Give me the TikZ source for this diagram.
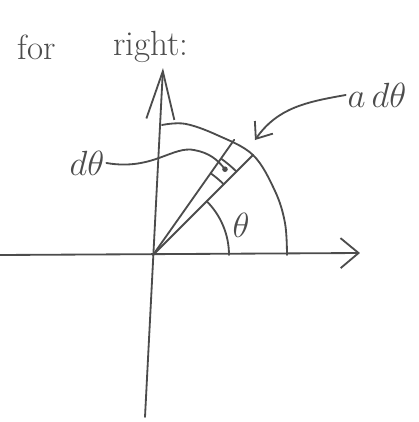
\documentclass[tikz,border=0pt]{standalone}
\usepackage{amsmath, amssymb}
\usepackage{tikz}
\usetikzlibrary{arrows.meta}
\usepackage{xcolor}
\definecolor{pencil}{gray}{0.3}

\begin{document}
\begin{tikzpicture}[
        pen/.style={draw=pencil, line width=1.3pt, line cap=round, line join=round},
        xarr/.style={pen, -{Straight Barb[length=4.5mm, width=7.5mm, line width=1.3pt]}},
        yarr/.style={pen, -{Straight Barb[length=12mm, width=7mm, line width=1.3pt]}},
        ptr/.style={pen, -{Straight Barb[length=3.5mm, width=5.5mm, line width=1.3pt]}},
        lbl/.style={text=pencil, font=\huge, scale=1.2, inner sep=1pt}
    ]
        \useasboundingbox (-3.825,-4.175) rectangle (6.65,6.375);

        % Axes
        \coordinate (O) at (0,0);
        \coordinate (xl) at (-3.825,0);
        \coordinate (xr) at (5.175,0.05);
        \coordinate (yb) at (-0.2,-4.05);
        \coordinate (yt) at (0.25,4.675);
        \draw[xarr] (xl) -- (xr);
        \draw[yarr] (yb) -- (yt);

        % Heading
        \node[lbl] (for) at (-2.9,5.2) {for};
        \node[lbl] (right) at (-0.05,5.2) {right:};

        % Quarter circle of radius a
        \draw[pen] plot[smooth, tension=0.6] coordinates {(0.225,3.25) (0.8,3.28) (1.6,3.0) (2.5,2.5) (3.05,1.6) (3.3,0.8) (3.35,0)};

        % Rays at theta and theta + d theta
        \coordinate (r1) at (2.5,2.5);
        \coordinate (r2) at (2.03,2.88);
        \draw[pen] (O) -- (r1);
        \draw[pen] (O) -- (r2);

        % Angle theta
        \draw[pen] (1.9,0) arc[start angle=0, end angle=45, radius=1.9];
        \node[lbl] (th) at (2.2,0.75) {$\theta$};

        % Element on the strip
        \draw[pen] (45:2.5) arc[start angle=45, end angle=54.8, radius=2.5];
        \draw[pen] (45:2.95) arc[start angle=45, end angle=54.8, radius=2.95];
        \coordinate (elem) at (50:2.8);
        \fill[pencil] (elem) circle (0.07);

        % Labels with leaders
        \node[lbl] (dth) at (-1.65,2.3) {$d\theta$};
        \draw[pen] (dth.east) .. controls (0.0,2.1) and (0.5,2.75) .. (1.05,2.62) .. controls (1.4,2.55) and (1.6,2.4) .. (elem);

        \node[lbl] (adth) at (5.6,4.0) {$a\,d\theta$};
        \coordinate (tip) at (2.55,2.875);
        \draw[ptr] (adth.west) to[out=190, in=55] (tip);
    \end{tikzpicture}
\end{document}
